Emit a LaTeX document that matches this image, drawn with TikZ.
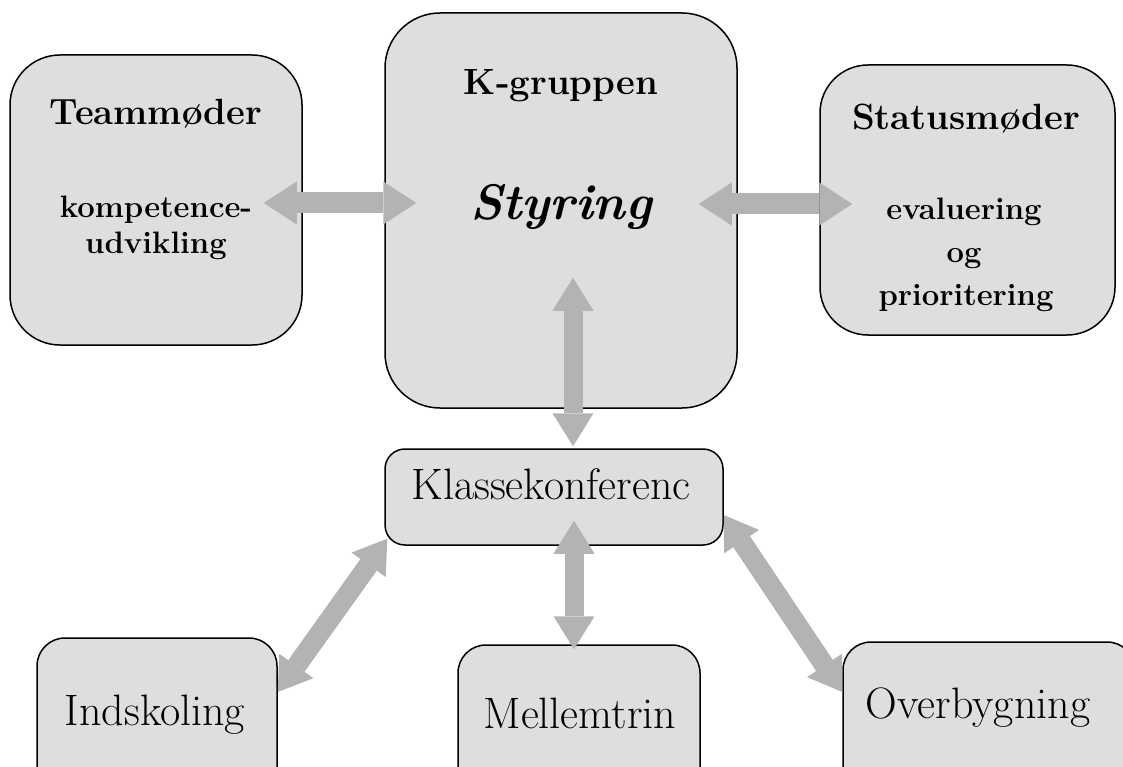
\documentclass[tikz,border=0pt]{standalone}
\usetikzlibrary{arrows.meta}
\definecolor{boxgray}{HTML}{DEDEDE}
\definecolor{arrgray}{HTML}{B3B3B3}

\begin{document}
\begin{tikzpicture}[x=1pt, y=-1pt,
	box/.style={draw, fill=boxgray, line width=1.5pt, inner sep=0pt},
	dblarr/.style={draw=arrgray, line width=21pt, <->, >={Triangle[length=33pt, width=43pt, line width=0pt]}},
	hd/.style={anchor=base, inner sep=0pt, font=\fontsize{36.5}{44}\selectfont\bfseries},
	sub/.style={anchor=base, inner sep=0pt, font=\fontsize{31}{37}\selectfont\bfseries},
	txt/.style={anchor=base, inner sep=0pt, font=\fontsize{44}{53}\selectfont}]

\useasboundingbox (0,0) rectangle (1123,767);
\clip (0,0) rectangle (1123,767);

	\node[box, minimum width=292pt, minimum height=290pt, rounded corners=50pt] (team) at(156,200) {};
	\node[box, minimum width=352pt, minimum height=395pt, rounded corners=55pt] (kgrp) at(561,210.5) {};
	\node[box, minimum width=295pt, minimum height=270pt, rounded corners=48pt] (status) at(967.5,200) {};
	\node[box, minimum width=338pt, minimum height=96pt, rounded corners=20pt] (klasse) at(554,497) {};
	\node[box, minimum width=240pt, minimum height=162pt, rounded corners=28pt] (indsk) at(157,719) {};
	\node[box, minimum width=242pt, minimum height=155pt, rounded corners=28pt] (mellem) at(579,722.5) {};
	\node[box, minimum width=292pt, minimum height=158pt, rounded corners=28pt] (overb) at(989,721) {};

\draw[dblarr] ([xshift=-39pt, yshift=-3pt]team.east) -- ([xshift=32pt, yshift=7.5pt]kgrp.west);
\draw[dblarr] ([xshift=-39pt, yshift=6.5pt]kgrp.east) -- ([xshift=33pt, yshift=-4pt]status.west);
\draw[dblarr, line width=19pt, >={Triangle[length=33pt, width=41pt, line width=0pt]}] ([xshift=12pt, yshift=131pt]kgrp.south) -- ([xshift=19pt, yshift=2pt]klasse.north);
\draw[dblarr, line width=19pt, >={Triangle[length=33pt, width=41pt, line width=0pt]}] ([xshift=20pt, yshift=25pt]klasse.south) -- ([xshift=-5pt, yshift=-5pt]mellem.north);
\draw[dblarr, line width=20pt, >={Triangle[length=32pt, width=42pt, line width=0pt]}] ([xshift=3pt, yshift=7pt]klasse.south west) -- ([yshift=27pt]indsk.east);
\draw[dblarr, line width=20pt, >={Triangle[length=32pt, width=42pt, line width=0pt]}] ([yshift=-18pt]klasse.east) -- ([yshift=29pt]overb.west);

	\node[hd] (tteam) at(156,125) {Teammøder};
	\node[sub] (tkomp) at(156,218) {kompetence-};
	\node[sub] (tudv) at(156,253) {udvikling};
	\node[hd] (tkgrp) at(561,95) {K-gruppen};
	\node[anchor=base, inner sep=0pt, font=\fontsize{50}{60}\selectfont\bfseries\itshape] (tstyr) at(561,220) {Styring};
	\node[hd] (tstatus) at(966,130) {Statusmøder};
	\node[sub] (teval) at(964,220) {evaluering};
	\node[sub] (tog) at(964,262) {og};
	\node[sub] (tprio) at(966,305) {prioritering};
	\node[txt] (tklasse) at(551,499) {Klassekonferenc};
	\node[txt] (tindsk) at(155,725) {Indskoling};
	\node[txt] (tmellem) at(580,728) {Mellemtrin};
	\node[txt] (toverb) at(978,718) {Overbygning};
\end{tikzpicture}
\end{document}
